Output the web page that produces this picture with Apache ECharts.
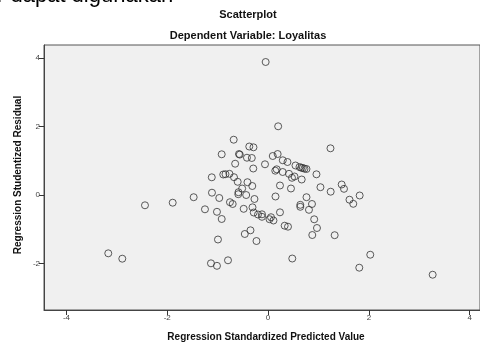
<!DOCTYPE html>
<html>
<head>
<meta charset="utf-8">
<script src="https://cdn.jsdelivr.net/npm/echarts@6/dist/echarts.min.js"></script>
<style>
html,body{margin:0;padding:0;background:#fff;}
#c{width:480px;height:342px;}
</style>
</head>
<body>
<div id="c"></div>
<script>
// Regression standardized predicted value (x)
const predicted = [
-0.048,0.200,-0.682,-0.373,-0.290,-0.920,-0.577,-0.561,0.190,0.093,
-0.419,-0.323,0.292,0.385,-0.653,-0.061,0.544,0.623,0.657,0.690,
0.722,0.762,-0.294,0.171,0.143,0.290,0.415,0.524,0.474,0.667,
0.960,-1.117,-0.889,-0.845,-0.766,-0.676,-0.603,-0.409,-0.313,-0.514,
0.236,0.454,1.039,1.238,1.460,1.506,1.242,1.615,1.690,1.817,
-0.587,-0.591,-0.434,-1.113,-0.968,-1.476,-1.892,-2.442,-0.756,-0.702,
-0.270,0.147,0.762,-1.252,-1.014,-0.920,-0.484,-0.309,-0.284,-0.200,
-0.121,-0.121,0.236,0.639,0.639,0.871,0.811,0.058,0.028,0.107,
0.329,0.395,0.915,0.970,0.877,-0.349,-0.462,-0.230,-0.994,-0.795,
-1.133,-1.014,0.480,1.321,2.027,1.809,3.265,-3.170,-2.892
];
// Regression studentized residual (y)
const residual = [
3.888,2.010,1.619,1.420,1.397,1.193,1.201,1.184,1.201,1.143,
1.093,1.085,1.018,0.968,0.918,0.901,0.866,0.822,0.801,0.793,
0.772,0.764,0.778,0.755,0.714,0.676,0.623,0.545,0.507,0.457,
0.609,0.521,0.603,0.612,0.623,0.524,0.390,0.378,0.267,0.194,
0.282,0.194,0.232,1.368,0.311,0.185,0.101,-0.133,-0.253,-0.010,
0.086,0.028,0.004,0.072,-0.083,-0.060,-0.220,-0.296,-0.206,-0.258,
-0.112,-0.039,-0.060,-0.413,-0.486,-0.696,-0.399,-0.355,-0.507,-0.565,
-0.559,-0.632,-0.501,-0.282,-0.340,-0.258,-0.428,-0.644,-0.702,-0.740,
-0.892,-0.921,-0.705,-0.959,-1.164,-1.026,-1.134,-1.339,-1.295,-1.902,
-1.990,-2.063,-1.850,-1.169,-1.739,-2.118,-2.323,-1.698,-1.855
];
const xTicks = [-4,-2,0,2,4];
const yTicks = [-2,0,2,4];
const titleText = 'Scatterplot';
const subtitleText = 'Dependent Variable: Loyalitas';
const xName = 'Regression Standardized Predicted Value';
const yName = 'Regression Studentized Residual';
const pageText = 'r dapat digunakan';

const points = predicted.map((v,i)=>[v, residual[i]]);
const FONT = '"Liberation Sans", Arial, sans-serif';

const chart = echarts.init(document.getElementById('c'), null, {renderer:'canvas'});
chart.setOption({
  animation:false,
  backgroundColor:'#ffffff',
  grid:{left:44, top:45, right:0, bottom:32, show:true, backgroundColor:'#f0f0f0', borderColor:'#555', borderWidth:1},
  xAxis:{
    type:'value', min:-4.445, max:4.204,
    splitLine:{show:false},
    axisLine:{show:true, onZero:false, lineStyle:{color:'#444', width:1}},
    axisTick:{show:true, length:5, customValues:xTicks, lineStyle:{color:'#333'}},
    axisLabel:{show:true, customValues:xTicks, fontSize:8, color:'#444', fontFamily:FONT, margin:4}
  },
  yAxis:{
    type:'value', min:-3.353, max:4.384,
    splitLine:{show:false},
    axisLine:{show:true, onZero:false, lineStyle:{color:'#444', width:1}},
    axisTick:{show:true, length:5, customValues:yTicks, lineStyle:{color:'#333'}},
    axisLabel:{show:true, customValues:yTicks, fontSize:8, color:'#444', fontFamily:FONT, margin:4}
  },
  series:[{
    type:'scatter',
    data:points,
    symbol:'circle',
    symbolSize:7,
    itemStyle:{color:'rgba(0,0,0,0)', borderColor:'#333', borderWidth:1},
    emphasis:{disabled:true}
  }],
  graphic:[
    {type:'text', left:-3, top:-15, style:{text:pageText, font:'22px '+FONT, fill:'#000'}},
    {type:'text', x:248, y:15, style:{text:titleText, font:'bold 11px '+FONT, fill:'#111', textAlign:'center', textVerticalAlign:'middle'}},
    {type:'text', x:248, y:36, style:{text:subtitleText, font:'bold 11px '+FONT, fill:'#111', textAlign:'center', textVerticalAlign:'middle'}},
    {type:'text', x:266, y:337, style:{text:xName, font:'bold 10px '+FONT, fill:'#111', textAlign:'center', textVerticalAlign:'middle'}},
    {type:'text', x:18, y:175, rotation:Math.PI/2, style:{text:yName, font:'bold 10px '+FONT, fill:'#111', textAlign:'center', textVerticalAlign:'middle'}}
  ]
});
</script>
</body>
</html>
